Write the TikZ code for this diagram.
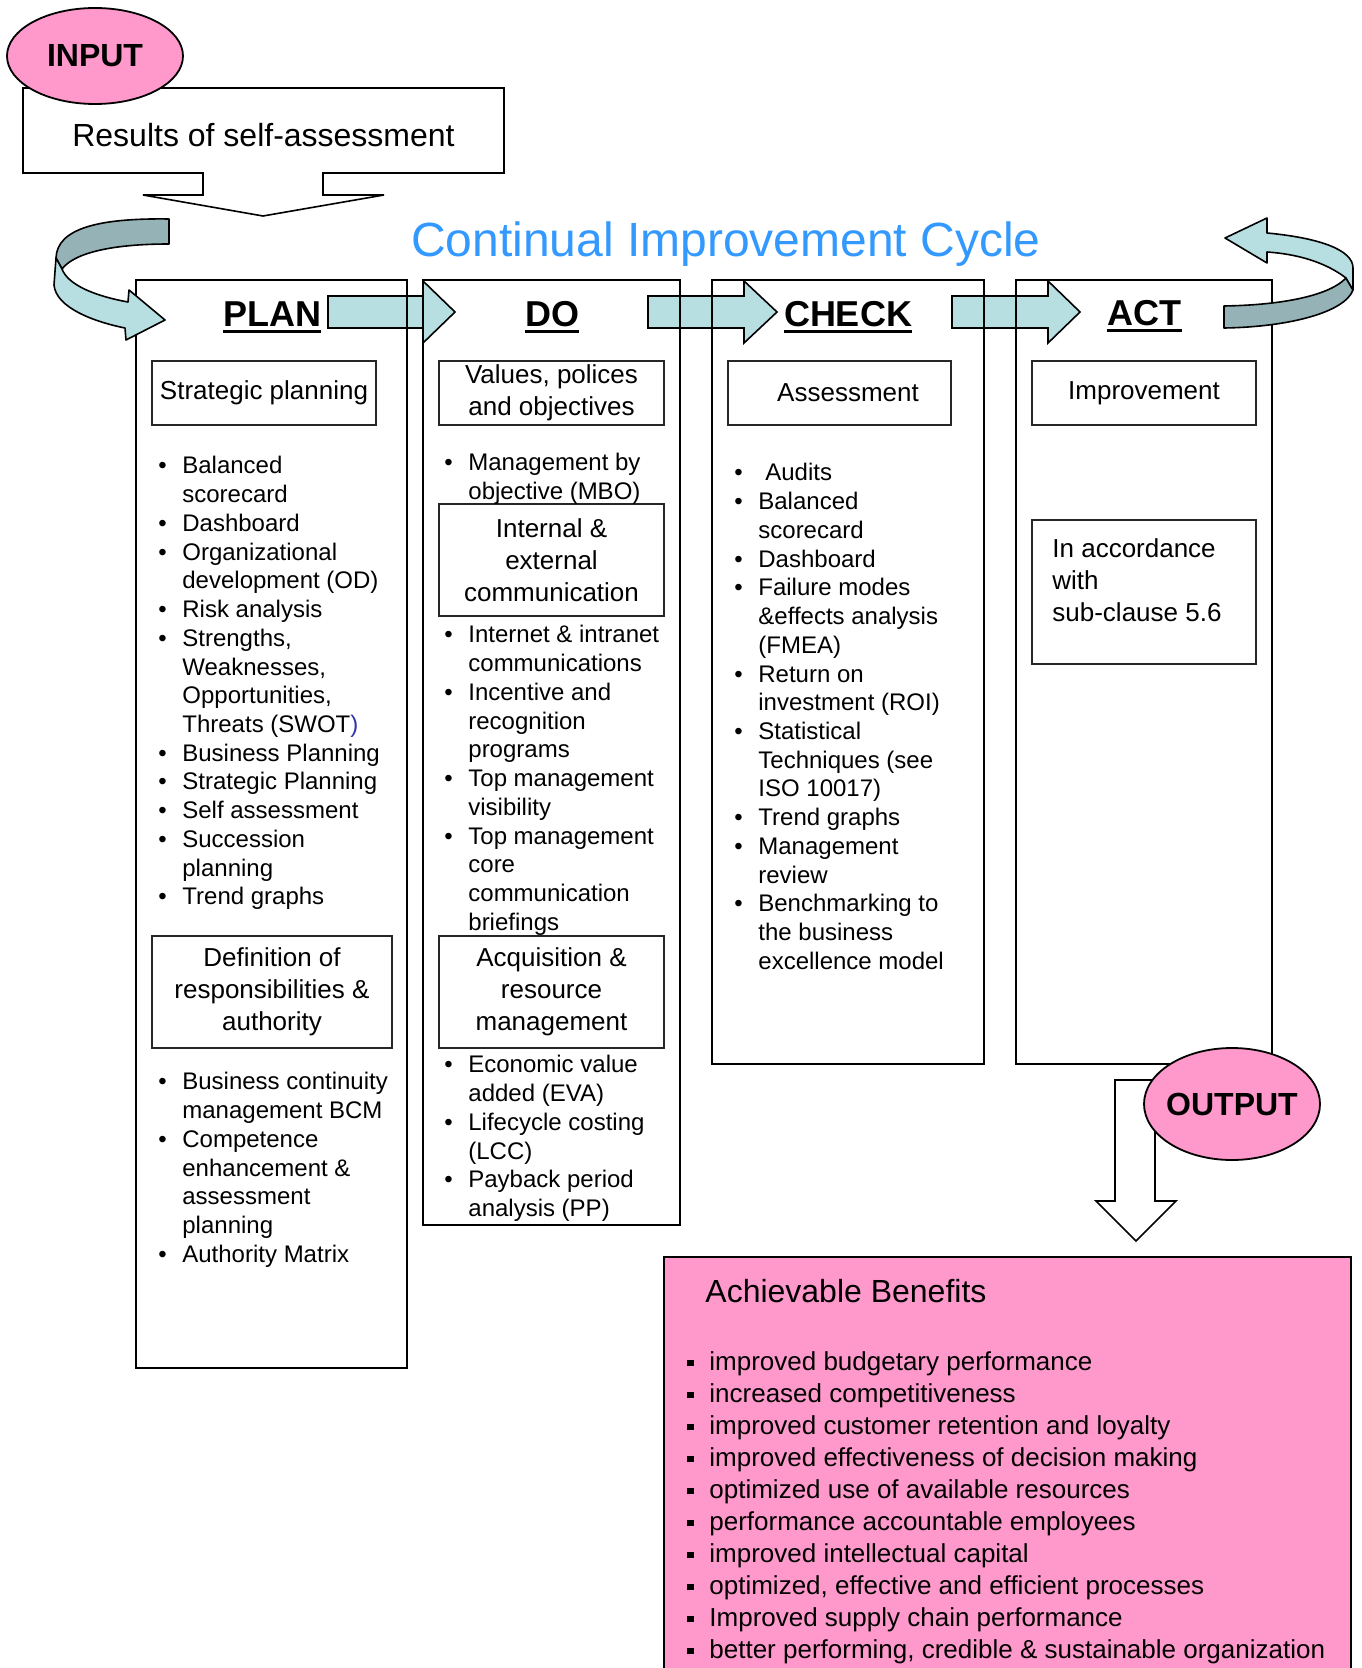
\documentclass[tikz,border=0pt]{standalone}
\usepackage{fontspec}
\setmainfont{Liberation Sans}
\usetikzlibrary{calc,shapes.geometric}
\definecolor{pinkfill}{HTML}{FF99CC}
\definecolor{ribbonlt}{HTML}{B7DEE1}
\definecolor{ribbondk}{HTML}{95B2B6}
\definecolor{titleblue}{HTML}{3399FF}
\definecolor{swotblue}{HTML}{3333AA}
\newcommand\bu{\makebox[12pt][l]{•}}
\newcommand\nb{\hspace*{12pt}}
\newcommand\sq{\makebox[11pt][l]{\rule[1.8pt]{3.4pt}{3.4pt}}}

\begin{document}
\begin{tikzpicture}[
        x=0.5pt,y=-0.5pt
        ,column/.style={draw=black,line width=1pt}
        ,inbox/.style={draw=black!85,line width=0.9pt,align=center,inner sep=0pt,font=\fontsize{13}{16}\selectfont}
        ,lst/.style={anchor=base west,align=left,inner sep=0pt,font=\fontsize{12}{14.37}\selectfont}
        ,head/.style={anchor=base,inner sep=0pt,font=\fontsize{18}{22}\selectfont\bfseries}
        ,ul/.style={line width=1.5pt}
        ,blockarrow/.style={draw=black,fill=ribbonlt,line width=0.8pt}
        ,ribdark/.style={draw=black,fill=ribbondk,line width=0.8pt,line join=round}
        ,riblight/.style={draw=black,fill=ribbonlt,line width=0.8pt,line join=round}
        ,oval/.style={ellipse,draw=black,fill=pinkfill,line width=0.9pt,inner sep=0pt,font=\fontsize{16}{19}\selectfont\bfseries}
    ]
    \useasboundingbox (0,0) rectangle (1361,1668);
    % Стрелки между колонками
    \coordinate (a1) at (328,296);
    \coordinate (a2) at (648,296);
    \coordinate (a3) at (952,296);
    \filldraw[blockarrow] (a1) -- ++(95,0) -- ++(0,-15) -- ++(32,31) -- ++(-32,31) -- ++(0,-15) -- ++(-95,0) -- cycle;
    \filldraw[blockarrow] (a2) -- ++(96,0) -- ++(0,-15) -- ++(33,31) -- ++(-33,31) -- ++(0,-15) -- ++(-96,0) -- cycle;
    \filldraw[blockarrow] (a3) -- ++(96,0) -- ++(0,-15) -- ++(32,31) -- ++(-32,31) -- ++(0,-15) -- ++(-96,0) -- cycle;
    % Колонки
    \draw[column] (136,280) rectangle (407,1368);
    \draw[column] (423,280) rectangle (680,1225);
    \draw[column] (712,280) rectangle (984,1064);
    \draw[column] (1016,280) rectangle (1272,1064);
    % Изогнутые стрелки
    \filldraw[ribdark] (169,219) -- (169,244) .. controls (115,244) and (75,252) .. (62,269)
        -- (56,258) .. controls (57,228) and (100,218) .. (169,219) -- cycle;
    \filldraw[riblight] (56,258) -- (54,285) .. controls (56,308) and (95,322) .. (125,328)
        -- (126,340) -- (165,320) -- (129,290) -- (128,302) .. controls (95,296) and (68,285) .. (62,269) -- cycle;
    \filldraw[ribdark] (1224,306) .. controls (1285,305) and (1330,295) .. (1346,278)
        -- (1353,290) .. controls (1345,312) and (1290,327) .. (1224,328) -- cycle;
    \filldraw[riblight] (1346,278) .. controls (1325,262) and (1297,254) .. (1267,252)
        -- (1267,263) -- (1225,238) -- (1267,218) -- (1267,233) .. controls (1320,238) and (1353,250) .. (1353,268)
        -- (1353,290) -- cycle;
    % Вход
    \draw[line width=0.8pt,fill=white] (23,88) -- (504,88) -- (504,173) -- (323,173) -- (323,195) -- (384,195)
        -- (263,216) -- (143,195) -- (203,195) -- (203,173) -- (23,173) -- cycle;
    \node[anchor=base,inner sep=0pt,font=\fontsize{16}{19}\selectfont] (results) at (263.5,147) {Results of self-assessment};
    \node[oval,minimum width=88pt,minimum height=48pt] (input) at (95,56) {\makebox[0pt]{INPUT}};
    \node[anchor=base,inner sep=0pt,font=\fontsize{24}{28}\selectfont,text=titleblue] (title) at (726,257) {Continual Improvement Cycle};
    % Заголовки
    \node[head] (plan) at (272,327) {PLAN};
    \node[head] (do) at (552,327) {DO};
    \node[head] (check) at (848,327) {CHECK};
    \node[head] (act) at (1144.5,326) {ACT};
    \foreach \h in {plan,do,check,act}
        \draw[ul] ([yshift=-2.5pt]\h.base west) -- ([yshift=-2.5pt]\h.base east);
    % Рамки внутри колонок
    \node[inbox,minimum width=112pt,minimum height=32pt] (strat) at (264,393) {Strategic planning};
    \node[inbox,minimum width=120pt,minimum height=56pt] (resp) at (272,992) {Definition of\\responsibilities \&\\authority};
    \node[inbox,minimum width=112.5pt,minimum height=32pt] (values) at (551.5,393) {Values, polices\\and objectives};
    \node[inbox,minimum width=112.5pt,minimum height=56pt] (comm) at (551.5,560) {Internal \&\\external\\communication};
    \node[inbox,minimum width=112.5pt,minimum height=56pt] (acq) at (551.5,992) {Acquisition \&\\resource\\management};
    \node[inbox,minimum width=111.5pt,minimum height=32pt] (assess) at (839.5,393) {\hspace*{8.5pt}Assessment};
    \node[inbox,minimum width=112pt,minimum height=32pt] (improve) at (1144,393) {Improvement};
    \node[inbox,minimum width=112pt,minimum height=72pt] (accbox) at (1144,592) {};
    % base = последняя строка
    \node[lst,font=\fontsize{13}{16}\selectfont] (acctext) at (1052,621) {In accordance\\with\\sub-clause 5.6};
    % Списки
    \node[lst] (planlist) at (158,{474+15*28.73}) {\bu Balanced\\\nb scorecard\\\bu Dashboard\\\bu Organizational\\\nb development (OD)\\\bu Risk analysis\\\bu Strengths,\\\nb Weaknesses,\\\nb Opportunities,\\\nb Threats (SWOT{\color{swotblue})}\\\bu Business Planning\\\bu Strategic Planning\\\bu Self assessment\\\bu Succession\\\nb planning\\\bu Trend graphs};
    \node[lst] (planlist2) at (158,{1090+6*28.73}) {\bu Business continuity\\\nb management BCM\\\bu Competence\\\nb enhancement \&\\\nb assessment\\\nb planning\\\bu Authority Matrix};
    \node[lst] (dolist) at (444,{472+27}) {\bu Management by\\\nb objective (MBO)};
    \node[lst] (dolist2) at (444,{643+10*28.73}) {\bu Internet \& intranet\\\nb communications\\\bu Incentive and\\\nb recognition\\\nb programs\\\bu Top management\\\nb visibility\\\bu Top management\\\nb core\\\nb communication\\\nb briefings};
    \node[lst] (dolist3) at (444,{1073+5*28.73}) {\bu Economic value\\\nb added (EVA)\\\bu Lifecycle costing\\\nb (LCC)\\\bu Payback period\\\nb analysis (PP)};
    \node[lst] (checklist) at (734,{481+17*28.73}) {\bu\hspace*{3.5pt}Audits\\\bu Balanced\\\nb scorecard\\\bu Dashboard\\\bu Failure modes\\\nb \&effects analysis\\\nb (FMEA)\\\bu Return on\\\nb investment (ROI)\\\bu Statistical\\\nb Techniques (see\\\nb ISO 10017)\\\bu Trend graphs\\\bu Management\\\nb review\\\bu Benchmarking to\\\nb the business\\\nb excellence model};
    % Выход
    \filldraw[draw=black,fill=white,line width=0.8pt] (1115,1080) -- (1155,1080) -- (1155,1201) -- (1176,1201)
        -- (1136,1241) -- (1096,1201) -- (1115,1201) -- cycle;
    \node[oval,minimum width=88pt,minimum height=56pt] (output) at (1232,1104) {\makebox[0pt]{OUTPUT}};
    \filldraw[draw=black,fill=pinkfill,line width=0.9pt] (664,1257) rectangle (1351,1700);
    \node[anchor=base west,inner sep=0pt,font=\fontsize{16}{19}\selectfont] (benhead) at (705,1302) {Achievable Benefits};
    \node[anchor=base west,align=left,inner sep=0pt,font=\fontsize{13}{16}\selectfont] (benlist) at (687,{1370+9*32})
        {\sq improved budgetary performance\\\sq increased competitiveness\\\sq improved customer retention and loyalty\\\sq improved effectiveness of decision making\\\sq optimized use of available resources\\\sq performance accountable employees\\\sq improved intellectual capital\\\sq optimized, effective and efficient processes\\\sq Improved supply chain performance\\\sq better performing, credible \& sustainable organization};
\end{tikzpicture}
\end{document}
